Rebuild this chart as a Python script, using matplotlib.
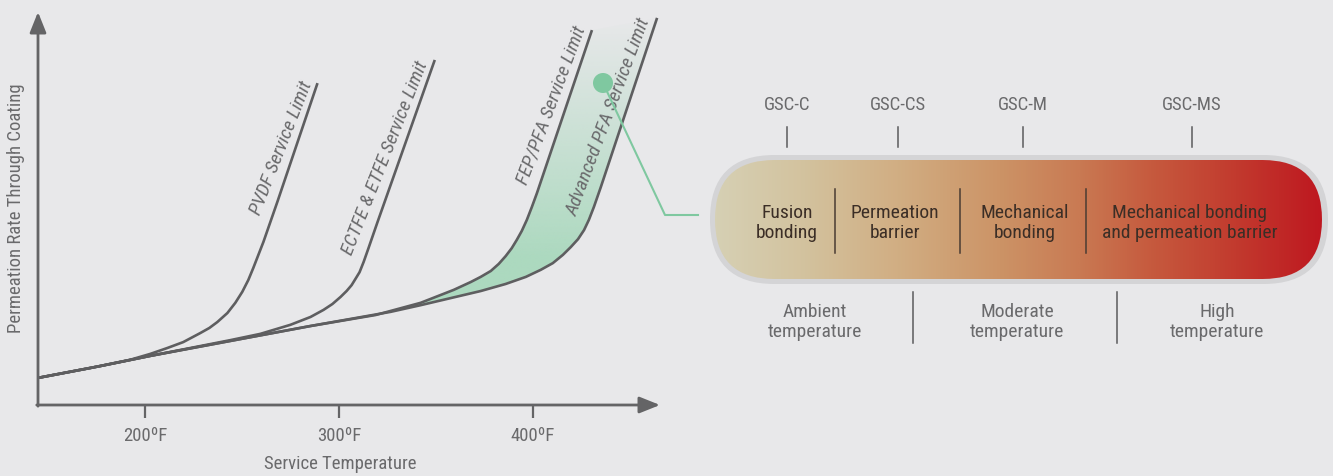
import matplotlib
matplotlib.use("Agg")
import matplotlib.pyplot as plt
import numpy as np
from matplotlib import font_manager
from matplotlib.colors import LinearSegmentedColormap, to_rgb
from matplotlib.patches import Circle, FancyBboxPatch, Polygon

# ---- chart data (service temperature in F, permeation rate in arbitrary units) ----
# Advanced PFA limit (also the common lower curve)
base_temp = [144.7, 176.7, 202.6, 243.9, 285.3, 326.6, 342.1, 357.6, 373.1, 386.0,
             396.4, 404.1, 410.3, 415.5, 419.6, 423.3, 426.4, 428.9, 431.5, 435.1,
             464.1]
base_rate = [6.9, 9.9, 12.5, 16.3, 20.1, 23.7, 25.4, 27.2, 29.0, 30.8,
             32.6, 34.4, 36.1, 38.2, 40.2, 42.2, 44.5, 47.1, 50.4, 55.5,
             98.5]

pvdf_temp = [144.7, 171.6, 192.2, 202.6, 211.4, 219.6, 228.4, 233.1, 237.2, 242.4,
             246.5, 250.1, 253.2, 255.8, 258.4, 261.0, 264.6, 268.2, 288.9]
pvdf_rate = [6.9, 9.4, 11.5, 13.0, 14.5, 16.0, 18.3, 19.6, 21.1, 23.4,
             26.0, 28.8, 31.8, 34.9, 38.2, 41.5, 46.6, 51.7, 81.9]

ectfe_temp = [144.7, 176.7, 202.6, 243.9, 259.4, 274.9, 285.3, 292.0, 296.6, 300.8,
              303.9, 306.5, 308.5, 310.6, 312.7, 315.2, 319.9, 349.4]
ectfe_rate = [6.9, 9.9, 12.5, 16.5, 18.1, 20.4, 22.4, 24.2, 25.7, 27.5,
              29.0, 30.5, 32.1, 33.8, 36.4, 39.9, 46.6, 87.8]

fep_temp = [144.7, 176.7, 202.6, 243.9, 285.3, 318.9, 342.1, 359.2, 368.0, 373.1,
            378.3, 382.4, 386.0, 389.1, 391.7, 394.3, 396.9, 399.5, 402.1, 430.5]
fep_rate = [6.9, 9.9, 12.5, 16.3, 20.1, 22.9, 26.0, 29.3, 31.3, 32.6,
            34.1, 35.9, 37.9, 39.9, 42.0, 44.3, 47.1, 50.4, 53.9, 95.4]

tick_temps = [200, 300, 400]
tick_labels = ["200ºF", "300ºF", "400ºF"]

# ---- coating selector data ----
products = ["GSC-C", "GSC-CS", "GSC-M", "GSC-MS"]
product_x = [787, 898, 1023, 1192]
segments = ["Fusion\nbonding", "Permeation\nbarrier", "Mechanical\nbonding",
            "Mechanical bonding\nand permeation barrier"]
segment_x = [787, 895, 1025, 1190]
segment_dividers = [835, 960, 1086]
ranges = ["Ambient\ntemperature", "Moderate\ntemperature", "High\ntemperature"]
range_x = [815, 1017, 1217]
range_dividers = [913, 1117]

BG = "#e8e8ea"
AXIS = "#646466"
CURVE = "#5e5e60"
LABEL = "#6a6a6c"
GREEN = "#7fc8a0"

names = {f.name for f in font_manager.fontManager.ttflist}
FONT = "DejaVu Sans"
for cand in ["Liberation Sans Narrow", "Roboto Condensed", "Open Sans Condensed", "Liberation Sans"]:
    if cand in names:
        FONT = cand
        break
plt.rcParams["font.family"] = [FONT, "DejaVu Sans"]

fig = plt.figure(figsize=(13.33, 4.76), dpi=100, facecolor=BG)

# ---- left chart ----
ax = fig.add_axes([38 / 1333, 71 / 476, 622 / 1333, 393 / 476])
ax.set_facecolor("none")
for s in ax.spines.values():
    s.set_visible(False)

# green band between FEP/PFA and Advanced PFA limits
fep_pts = [(t, r) for t, r in zip(fep_temp, fep_rate) if t >= 318]
adv_pts = [(t, r) for t, r in zip(base_temp, base_rate) if t >= 318][::-1]
band = Polygon(np.array(fep_pts + adv_pts), closed=True, facecolor="none",
               edgecolor="none")
ax.add_patch(band)
g = np.linspace(0, 1, 256)
img = np.zeros((256, 1, 4))
img[:, 0, :3] = to_rgb("#acd9bf")
img[:, 0, 3] = np.clip(1.25 * g, 0, 1)
im = ax.imshow(img, extent=[300, 470, 22, 99], origin="upper", aspect="auto",
               interpolation="bilinear", zorder=1)
im.set_clip_path(band)

for tx, ry in [(base_temp, base_rate), (pvdf_temp, pvdf_rate),
               (ectfe_temp, ectfe_rate), (fep_temp, fep_rate)]:
    ax.plot(tx, ry, color=CURVE, lw=1.9, solid_capstyle="butt",
            solid_joinstyle="round", zorder=3)

ax.set_xlim(144.7, 465.6)
ax.set_ylim(0, 100)

arrow = dict(arrowstyle="-|>,head_length=1.25,head_width=0.5", color=AXIS, lw=2.0,
             shrinkA=0, shrinkB=0, mutation_scale=10)
ax.annotate("", xy=(0, 1.0), xytext=(0, -0.003), xycoords="axes fraction",
            arrowprops=arrow, annotation_clip=False)
ax.annotate("", xy=(1.0, 0), xytext=(-0.002, 0), xycoords="axes fraction",
            arrowprops=arrow, annotation_clip=False)

ax.set_xticks(tick_temps)
ax.set_xticklabels(tick_labels)
ax.set_yticks([])
ax.tick_params(axis="x", length=9.5, width=1.6, color=AXIS, pad=6,
               labelsize=13.5, labelcolor=LABEL)
ax.set_xlabel("Service Temperature", fontsize=13.5, color=LABEL, va="center")
ax.xaxis.set_label_coords((340 - 38) / 622, (405 - 464) / 393)
ax.set_ylabel("Permeation Rate Through Coating", fontsize=13.5, color=LABEL, va="center")
ax.yaxis.set_label_coords((16 - 38) / 622, (405 - 208) / 393)

line_labels = [("PVDF Service Limit", 270.3, 65.4, 68.5),
               ("ECTFE & ETFE Service Limit", 324.0, 62.8, 68.5),
               ("FEP/PFA Service Limit", 409.3, 76.3, 69.5),
               ("Advanced PFA Service Limit", 439.3, 73.3, 69.5)]
for txt, lx, ly, rot in line_labels:
    ax.text(lx, ly, txt, rotation=rot, rotation_mode="anchor", ha="center",
            va="center", fontsize=14, style="italic", color=LABEL, zorder=4)

# ---- overlay in pixel coordinates ----
ov = fig.add_axes([0, 0, 1, 1])
ov.axis("off")
ov.patch.set_alpha(0)

ov.add_patch(Circle((603, 83), 10, facecolor=GREEN, edgecolor="none", zorder=5))
ov.plot([603, 665, 698], [83, 215, 215], color=GREEN, lw=1.5, zorder=5)

outer = FancyBboxPatch((710, 155), 618, 129, boxstyle="round,pad=0,rounding_size=64.5",
                       facecolor="#d4d4d6", edgecolor="none")
ov.add_patch(outer)
inner = FancyBboxPatch((715, 160), 607, 119, boxstyle="round,pad=0,rounding_size=59.5",
                       facecolor="none", edgecolor="none")
ov.add_patch(inner)
stops = [(0.0, "#d6d0b4"), (0.14, "#d3c39f"), (0.30, "#d1ae83"), (0.47, "#cc9366"),
         (0.60, "#c97a53"), (0.72, "#c65a3e"), (0.86, "#c23a2e"), (1.0, "#be1820")]
cmap = LinearSegmentedColormap.from_list("pill", stops)
grad = np.linspace(0, 1, 512)[None, :]
pim = ov.imshow(grad, cmap=cmap, extent=[715, 1322, 279, 160], aspect="auto",
                interpolation="bilinear", zorder=2)
pim.set_clip_path(inner)
ov.set_xlim(0, 1333)
ov.set_ylim(476, 0)

for x in segment_dividers:
    ov.plot([x, x], [189, 253], color="#4a3c33", lw=1.1, zorder=3)
for txt, x in zip(segments, segment_x):
    ov.text(x, 223, txt, ha="center", va="center", fontsize=14, color="#3b2e26",
            linespacing=1.15, zorder=4)

for txt, x in zip(products, product_x):
    ov.text(x, 105, txt, ha="center", va="center", fontsize=13.5, color=LABEL)
    ov.plot([x, x], [127, 147], color="#5a5a5c", lw=1.1)

for x in range_dividers:
    ov.plot([x, x], [292, 343], color="#5a5a5c", lw=1.1)
for txt, x in zip(ranges, range_x):
    ov.text(x, 322, txt, ha="center", va="center", fontsize=14, color=LABEL,
            linespacing=1.1)

fig.savefig("out.png", dpi=100, facecolor=BG)
